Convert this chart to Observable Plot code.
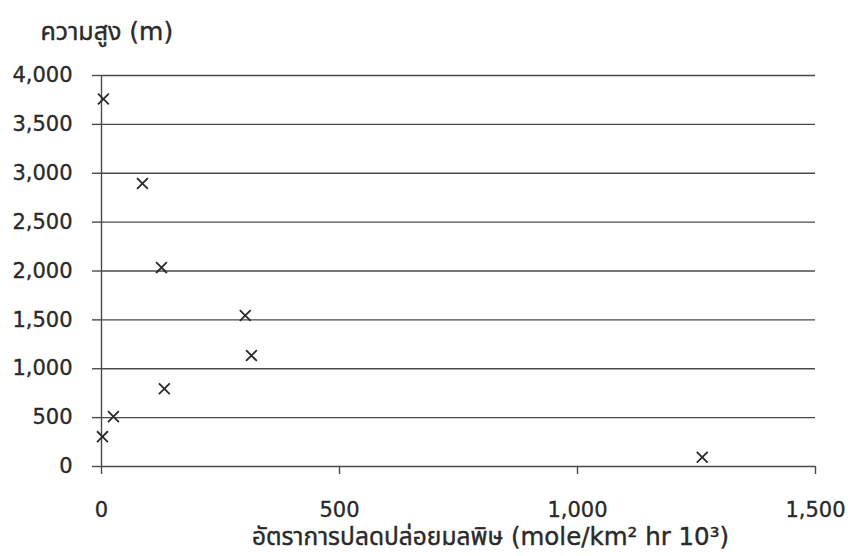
<!DOCTYPE html>
<html>
<head>
<meta charset="utf-8">
<script src="https://cdn.jsdelivr.net/npm/d3@7"></script>
<script src="https://cdn.jsdelivr.net/npm/@observablehq/plot@0.6"></script>
<style>
  html, body { margin: 0; padding: 0; background: #ffffff; }
  #chart svg { display: block; }
</style>
</head>
<body>
<div id="chart"></div>
<script>
// Data
const emission = [4, 86, 126, 302, 315, 132, 25, 2, 1262];      // mole/km² hr 10³
const altitude = [3760, 2895, 2035, 1545, 1135, 795, 510, 305, 95]; // m
const xTicks = [0, 500, 1000, 1500];
const yTicks = [0, 500, 1000, 1500, 2000, 2500, 3000, 3500, 4000];
const yTitle = "ความสูง (m)";
const xTitle = "อัตราการปลดปล่อยมลพิษ (mole/km² hr 10³)";

const points = emission.map((x, i) => ({x, y: altitude[i]}));
const ink = "#2a2a2a";
const lineColor = "#4a4a4a";
const fontFamily = "'DejaVu Sans', 'Noto Sans', 'Noto Sans Thai', sans-serif";
const fmt = d3.format(",");

const chart = Plot.plot({
  width: 848,
  height: 556,
  marginLeft: 101,
  marginRight: 33,
  marginTop: 75,
  marginBottom: 90,
  style: {fontFamily, fontSize: "21px", color: ink, background: "#ffffff"},
  x: {domain: [0, 1500]},
  y: {domain: [0, 4000]},
  marks: [
    Plot.gridY(yTicks, {stroke: lineColor, strokeOpacity: 1, strokeWidth: 1.4}),
    Plot.ruleX([0], {y1: 0, y2: 4000, stroke: lineColor, strokeWidth: 1.4}),
    Plot.axisY({ticks: yTicks, tickSize: 9, tickPadding: 20, tickFormat: fmt, stroke: lineColor, strokeWidth: 1.4, label: null, fill: ink}),
    Plot.axisX({ticks: xTicks, tickSize: 8, tickPadding: 28, tickFormat: fmt, stroke: lineColor, strokeWidth: 1.4, label: null, fill: ink}),
    Plot.dot(points, {x: "x", y: "y", symbol: "times", r: 5, stroke: ink, strokeWidth: 1.8}),
    Plot.text([yTitle], {frameAnchor: "top-left", dx: -61, dy: -44, textAnchor: "start", lineAnchor: "middle", fontSize: 25, fill: ink, stroke: ink, strokeWidth: 0.4}),
    Plot.text([xTitle], {frameAnchor: "bottom", dx: 32, dy: 71, textAnchor: "middle", lineAnchor: "middle", fontSize: 24.5, fill: ink, stroke: ink, strokeWidth: 0.4})
  ]
});
// slightly heavier tick labels, like the scanned reference
d3.select(chart).selectAll("g[aria-label$='tick label']")
  .attr("stroke", ink).attr("stroke-width", 0.35);
document.getElementById("chart").append(chart);
</script>
</body>
</html>
